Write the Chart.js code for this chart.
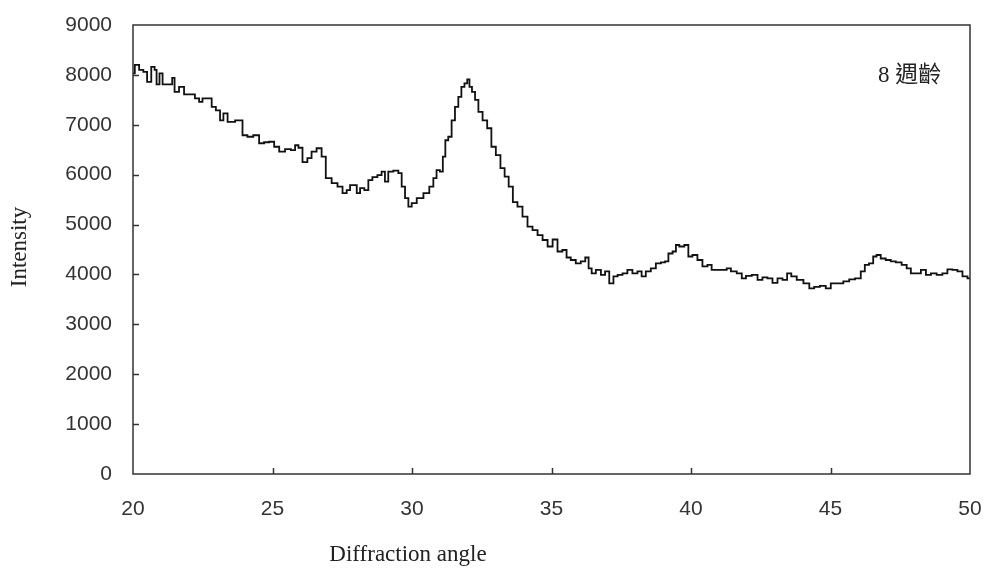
<!DOCTYPE html>
<html>
<head>
<meta charset="utf-8">
<title>Diffraction pattern</title>
<script src="https://cdn.jsdelivr.net/npm/chart.js@4/dist/chart.umd.min.js"></script>
<style>
  html, body { margin: 0; padding: 0; background: #fff; }
  canvas { display: block; }
</style>
</head>
<body>
<canvas id="xrdChart" width="984" height="570"></canvas>
<script>
// values
const angles = [
    20.00, 20.13, 20.31, 20.43, 20.58, 20.73, 20.82, 20.87, 21.03, 21.09,
    21.39, 21.42, 21.56, 21.74, 21.92, 22.16, 22.28, 22.46, 22.52, 22.76,
    22.88, 23.06, 23.18, 23.30, 23.48, 23.84, 24.01, 24.19, 24.43, 24.61,
    24.79, 24.97, 25.15, 25.33, 25.57, 25.75, 25.87, 25.99, 26.16, 26.34,
    26.46, 26.70, 26.82, 27.00, 27.24, 27.42, 27.60, 27.72, 27.84, 27.96,
    28.08, 28.20, 28.38, 28.49, 28.67, 28.85, 28.97, 29.09, 29.21, 29.45,
    29.57, 29.69, 29.81, 29.93, 30.05, 30.29, 30.53, 30.71, 30.82, 30.94,
    31.06, 31.15, 31.24, 31.36, 31.48, 31.60, 31.72, 31.82, 31.94, 32.02,
    32.10, 32.20, 32.32, 32.44, 32.62, 32.77, 32.92, 33.09, 33.25, 33.39,
    33.54, 33.69, 33.87, 34.05, 34.23, 34.41, 34.59, 34.77, 34.95, 35.13,
    35.30, 35.48, 35.60, 35.78, 35.96, 36.14, 36.28, 36.38, 36.50, 36.68,
    36.86, 36.98, 37.16, 37.28, 37.46, 37.63, 37.81, 37.99, 38.17, 38.29,
    38.47, 38.65, 38.83, 39.01, 39.13, 39.25, 39.43, 39.49, 39.67, 39.85,
    39.96, 40.14, 40.32, 40.50, 40.68, 40.80, 41.04, 41.22, 41.34, 41.52,
    41.76, 41.88, 42.06, 42.30, 42.47, 42.65, 42.83, 43.01, 43.19, 43.37,
    43.52, 43.67, 43.91, 44.15, 44.33, 44.50, 44.74, 44.92, 45.10, 45.34,
    45.58, 45.76, 46.00, 46.17, 46.29, 46.47, 46.59, 46.71, 46.89, 47.07,
    47.25, 47.43, 47.67, 47.79, 47.97, 48.15, 48.33, 48.51, 48.69, 48.92,
    49.10, 49.28, 49.46, 49.64, 49.82, 50.00
];
const intensity = [
    8030, 8200, 8100, 8060, 7860, 8160, 8100, 7810, 8030, 7810,
    7810, 7940, 7660, 7760, 7610, 7610, 7530, 7460, 7530, 7530,
    7360, 7290, 7090, 7230, 7060, 7090, 6790, 6760, 6790, 6630,
    6650, 6660, 6560, 6460, 6510, 6490, 6590, 6540, 6250, 6330,
    6460, 6530, 6360, 5930, 5830, 5760, 5630, 5690, 5790, 5790,
    5630, 5730, 5690, 5890, 5950, 5990, 6060, 5860, 6060, 6080,
    6030, 5760, 5530, 5360, 5430, 5530, 5630, 5760, 5930, 6090,
    6060, 6360, 6690, 6760, 7090, 7360, 7560, 7760, 7830, 7910,
    7760, 7660, 7500, 7260, 7090, 6930, 6560, 6390, 6130, 5960,
    5760, 5450, 5360, 5160, 4960, 4890, 4790, 4690, 4560, 4700,
    4460, 4490, 4340, 4290, 4220, 4260, 4340, 4120, 4020, 4090,
    3990, 4060, 3820, 3960, 3990, 4020, 4090, 4020, 4060, 3960,
    4060, 4120, 4220, 4240, 4260, 4420, 4460, 4590, 4560, 4590,
    4360, 4390, 4290, 4160, 4190, 4090, 4090, 4090, 4120, 4060,
    4020, 3920, 3970, 3990, 3890, 3940, 3920, 3830, 3920, 3890,
    4020, 3960, 3890, 3820, 3720, 3750, 3770, 3720, 3820, 3820,
    3860, 3900, 3920, 4060, 4190, 4220, 4360, 4390, 4320, 4290,
    4260, 4240, 4190, 4120, 4020, 4020, 4090, 3990, 4020, 3990,
    4020, 4100, 4090, 4060, 3960, 3920
];
const xTicks = { min: 20, max: 50, step: 5 };
const yTicks = { min: 0, max: 9000, step: 1000 };
const xTitle = 'Diffraction angle';
const yTitle = 'Intensity';
const sampleLabel = '8 週齡';

const points = angles.map((a, i) => ({ x: a, y: intensity[i] }));

const axisColor = '#333';
const tickFont = { family: '"Liberation Sans", Arial, sans-serif', size: 21 };

// box around the plot, inward tick marks and the text labels
const framePlugin = {
    id: 'frame',
    afterDraw(chart) {
        const { ctx, chartArea: a, scales } = chart;
        ctx.save();
        ctx.strokeStyle = axisColor;
        ctx.lineWidth = 1.5;
        ctx.strokeRect(a.left, a.top, a.right - a.left, a.bottom - a.top);

        ctx.beginPath();
        scales.y.ticks.forEach(t => {
            if (t.value <= yTicks.min || t.value >= yTicks.max) return;
            const py = Math.round(scales.y.getPixelForValue(t.value)) + 0.5;
            ctx.moveTo(a.left, py);
            ctx.lineTo(a.left + 6, py);
        });
        scales.x.ticks.forEach(t => {
            if (t.value <= xTicks.min || t.value >= xTicks.max) return;
            const px = Math.round(scales.x.getPixelForValue(t.value)) + 0.5;
            ctx.moveTo(px, a.bottom);
            ctx.lineTo(px, a.bottom - 6);
        });
        ctx.stroke();

        ctx.fillStyle = '#222';
        ctx.font = '23px "Liberation Serif", "Times New Roman", serif';
        ctx.textAlign = 'center';
        ctx.textBaseline = 'middle';
        ctx.fillText(xTitle, 408, 555);

        ctx.save();
        ctx.translate(20, 247);
        ctx.rotate(-Math.PI / 2);
        ctx.fillText(yTitle, 0, 0);
        ctx.restore();

        ctx.textAlign = 'left';
        ctx.textBaseline = 'alphabetic';
        ctx.font = '23px "Liberation Serif", "Noto Sans CJK TC", serif';
        ctx.fillText(sampleLabel, 878, 82);
        ctx.restore();
    }
};

new Chart(document.getElementById('xrdChart'), {
    type: 'line',
    data: {
        datasets: [{
            label: sampleLabel,
            data: points,
            borderColor: '#111',
            borderWidth: 1.8,
            pointRadius: 0,
            stepped: 'middle',
            fill: false
        }]
    },
    options: {
        responsive: false,
        animation: false,
        layout: { padding: { left: 0, right: 14, top: 25, bottom: 0 } },
        plugins: {
            legend: { display: false },
            tooltip: { enabled: false }
        },
        scales: {
            x: {
                type: 'linear',
                min: xTicks.min,
                max: xTicks.max,
                grid: { display: false, drawTicks: false },
                border: { display: false },
                ticks: {
                    stepSize: xTicks.step,
                    color: axisColor,
                    font: tickFont,
                    padding: 23,
                    maxRotation: 0
                },
                afterFit: scale => {
                    scale.height = 96;
                    scale.paddingLeft = 0;
                    scale.paddingRight = 0;
                }
            },
            y: {
                min: yTicks.min,
                max: yTicks.max,
                grid: { display: false, drawTicks: false },
                border: { display: false },
                ticks: {
                    stepSize: yTicks.step,
                    color: axisColor,
                    font: tickFont,
                    padding: 21,
                    callback: v => String(v)
                },
                afterFit: scale => {
                    scale.width = 133;
                    scale.paddingTop = 0;
                    scale.paddingBottom = 0;
                }
            }
        }
    },
    plugins: [framePlugin]
});
</script>
</body>
</html>
